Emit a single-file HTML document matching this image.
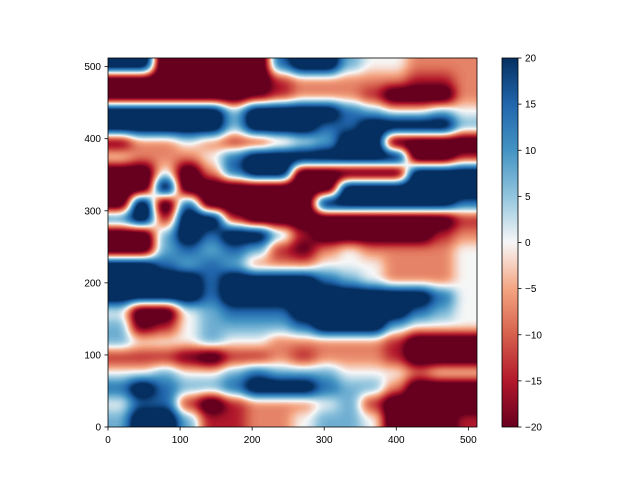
<!DOCTYPE html>
<html><head><meta charset="utf-8"><style>
body{margin:0;background:#fff;font-family:"Liberation Sans",sans-serif}
svg text{font-family:"Liberation Sans",sans-serif;font-size:10px;fill:#000}
</style></head><body>
<svg id="chart" width="640" height="480" xmlns="http://www.w3.org/2000/svg">
<defs>
<filter id="blur" filterUnits="userSpaceOnUse" x="70" y="20" width="450" height="450" color-interpolation-filters="sRGB">
<feGaussianBlur stdDeviation="6.5"/>
<feComponentTransfer><feFuncR type="linear" slope="1.5" intercept="-0.25"/><feFuncG type="linear" slope="1.5" intercept="-0.25"/><feFuncB type="linear" slope="1.5" intercept="-0.25"/></feComponentTransfer>
<feComponentTransfer>
<feFuncR type="table" tableValues="0.404 0.698 0.839 0.957 0.969 0.573 0.263 0.129 0.020"/>
<feFuncG type="table" tableValues="0 0.094 0.376 0.647 0.969 0.773 0.576 0.400 0.188"/>
<feFuncB type="table" tableValues="0.122 0.169 0.302 0.510 0.969 0.871 0.765 0.675 0.380"/>
</feComponentTransfer>
</filter>
<clipPath id="clip"><rect x="108" y="58" width="369" height="369"/></clipPath>
<linearGradient id="cbgrad" x1="0" y1="1" x2="0" y2="0">
<stop offset="0" stop-color="#67001f"/><stop offset="0.125" stop-color="#b2182b"/><stop offset="0.25" stop-color="#d6604d"/><stop offset="0.375" stop-color="#f4a582"/><stop offset="0.5" stop-color="#f7f7f7"/><stop offset="0.625" stop-color="#92c5de"/><stop offset="0.75" stop-color="#4393c3"/><stop offset="0.875" stop-color="#2166ac"/><stop offset="1" stop-color="#053061"/>
</linearGradient>
</defs>
<g id="cells" clip-path="url(#clip)"><g id="cellsInner" filter="url(#blur)"></g></g>
<rect x="108" y="58" width="369" height="369" fill="none" stroke="#000" stroke-width="0.8"/>
<g id="xaxis"></g>
<g id="yaxis"></g>
<rect x="502" y="58" width="16" height="369" fill="url(#cbgrad)" stroke="#000" stroke-width="0.8"/>
<g id="cbaxis"></g>
</svg>
<script>
// 24 rows from top (y=512) to bottom (y=0), 16 columns each of 32 units
const row0  = [20,20,-20,-20,-20,-20,-20,10,20,20,5,0,0,-5,-5,-5];
const row1  = [-20,-20,-20,-20,-20,-20,-20,-10,-5,-5,-5,-5,-5,-10,-10,-5];
const row2  = [-20,-20,-20,-20,-20,-20,-15,-10,-5,-5,-5,-10,-20,-20,-20,-5];
const row3  = [20,20,20,20,20,5,20,20,20,20,10,5,0,0,5,0];
const row4  = [20,20,20,20,20,5,20,20,20,10,10,20,20,20,20,5];
const row5  = [-15,-5,-5,0,-5,-10,-10,-5,0,5,20,20,-20,-20,-20,-20];
const row6  = [0,-5,-5,-5,0,10,20,20,20,20,20,20,20,-20,-20,-10];
const row7  = [-20,-20,0,-20,-5,10,20,20,-20,-20,-20,-20,-20,20,20,20];
const row8  = [-20,-20,20,-20,-20,-20,-20,-20,-20,-20,20,20,20,20,20,20];
const row9  = [-20,20,-20,10,-20,-20,-20,-20,-20,20,20,20,20,20,20,10];
const row10 = [10,20,-10,20,20,-10,-20,-20,-20,-20,-20,-20,-20,-20,-20,-10];
const row11 = [-20,-20,5,20,10,20,20,5,-10,-20,-20,-20,-20,-20,-10,-5];
const row12 = [-20,-20,5,10,5,10,5,-10,-15,-5,0,-5,-5,-5,-5,0];
const row13 = [20,20,10,5,10,5,-5,-5,-5,0,0,0,-5,-5,-5,0];
const row14 = [20,20,20,20,10,20,20,20,20,10,5,0,-5,-5,-5,0];
const row15 = [20,20,20,20,10,20,20,20,20,20,20,20,20,20,10,0];
const row16 = [0,-20,-20,0,5,10,10,10,20,20,20,20,20,10,5,0];
const row17 = [5,-15,-10,0,5,5,5,5,10,20,20,20,5,0,0,0];
const row18 = [5,0,0,0,5,0,0,-5,-5,-5,-5,-5,-10,-20,-20,-20];
const row19 = [-10,-10,-10,-15,-20,-10,-10,-5,-10,-5,-5,-5,-10,-20,-20,-20];
const row20 = [0,0,5,0,0,5,10,5,5,5,0,0,0,-5,0,0];
const row21 = [10,20,10,5,5,10,20,20,20,10,5,5,-5,-20,-20,-20];
const row22 = [0,10,10,-10,-20,-10,-5,-5,-5,0,5,-10,-20,-20,-20,-20];
const row23 = [5,20,20,5,-10,-10,-5,-5,0,5,5,0,-20,-20,-20,-10];
const gridRows = [row0,row1,row2,row3,row4,row5,row6,row7,row8,row9,row10,row11,row12,row13,row14,row15,row16,row17,row18,row19,row20,row21,row22,row23];
const xTicks = [0,100,200,300,400,500];
const yTicks = [0,100,200,300,400,500];
const cbTicks = [-20,-15,-10,-5,0,5,10,15,20];

const X0=108,Y0=427,S=369/512;
const sx=v=>X0+v*S, sy=v=>Y0-v*S;
const cbY=v=>427-(v+20)/40*369;
// encode value as gray level; the filter blurs and maps it through the RdBu colormap
function gray(v){v=Math.max(-20,Math.min(20,v));const g=Math.round((v+20)/40*255);return `rgb(${g},${g},${g})`;}
const NS="http://www.w3.org/2000/svg";
const cells=document.getElementById('cellsInner');
const nR=gridRows.length, nC=gridRows[0].length;
const cw=512/nC, ch=512/nR, PAD=30;
gridRows.forEach((row,ri)=>{row.forEach((v,ci)=>{
 const r=document.createElementNS(NS,'rect');
 
 
 let x1=sx(ci*cw)-0.5, x2=sx((ci+1)*cw)+0.5, y1=sy(512-ri*ch)-0.5, y2=sy(512-(ri+1)*ch)+0.5;
 if(ci===0)x1-=PAD; if(ci===nC-1)x2+=PAD; if(ri===0)y1-=PAD; if(ri===nR-1)y2+=PAD;
 r.setAttribute('x',x1);r.setAttribute('y',y1);
 r.setAttribute('width',x2-x1);r.setAttribute('height',y2-y1);
 r.setAttribute('fill',gray(v));cells.appendChild(r);});});
function tick(g,x1,y1,x2,y2){const l=document.createElementNS(NS,'line');l.setAttribute('x1',x1);l.setAttribute('y1',y1);l.setAttribute('x2',x2);l.setAttribute('y2',y2);l.setAttribute('stroke','#000');l.setAttribute('stroke-width','0.8');g.appendChild(l);}
function label(g,x,y,t,anchor){const e=document.createElementNS(NS,'text');e.setAttribute('x',x);e.setAttribute('y',y);e.setAttribute('text-anchor',anchor);e.textContent=t;g.appendChild(e);return e;}
const xa=document.getElementById('xaxis');
xTicks.forEach(v=>{tick(xa,sx(v),427,sx(v),430.5);const e=label(xa,sx(v),443,v,'middle');

});
const ya=document.getElementById('yaxis');
yTicks.forEach(v=>{tick(ya,104.5,sy(v),108,sy(v));const e=label(ya,101,sy(v)+3.5,v,'end');

});
const ca=document.getElementById('cbaxis');
cbTicks.forEach(v=>{tick(ca,518,cbY(v),521.5,cbY(v));const e=label(ca,525,cbY(v)+3.5,v<0?'\u2212'+Math.abs(v):v,'start');

});
</script>
</body></html>
